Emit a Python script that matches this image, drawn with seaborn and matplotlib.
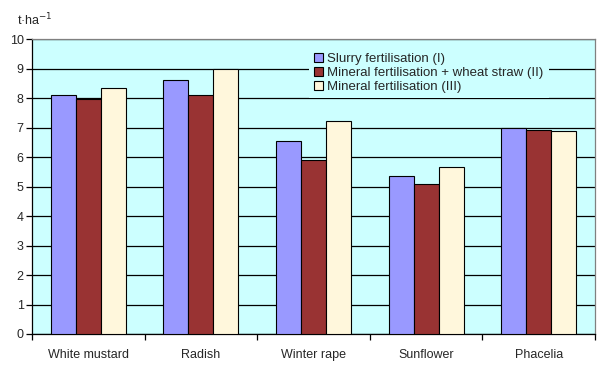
import matplotlib
matplotlib.use("Agg")
import matplotlib.pyplot as plt
import pandas as pd
import seaborn as sns
from matplotlib.ticker import FixedLocator

crops = ["White mustard", "Radish", "Winter rape", "Sunflower", "Phacelia"]
series = ["Slurry fertilisation (I)",
          "Mineral fertilisation + wheat straw (II)",
          "Mineral fertilisation (III)"]
slurry = [8.09, 8.60, 6.54, 5.35, 7.00]
mineral_straw = [7.96, 8.09, 5.89, 5.07, 6.90]
mineral = [8.33, 9.00, 7.21, 5.65, 6.87]
colors = ["#9999FF", "#993333", "#FFF7DC"]


def main():
	sns.set_style("white")
	plt.rcParams['font.family'] = ['Liberation Sans', 'DejaVu Sans']
	plt.rcParams['font.size'] = 9

	rows = []
	for name, vals in zip(series, [slurry, mineral_straw, mineral]):
		for c, v in zip(crops, vals):
			rows.append({"crop": c, "treatment": name, "yield": v})
	df = pd.DataFrame(rows)

	fig = plt.figure(figsize=(5.98, 3.68), dpi=100)
	ax = fig.add_axes([32 / 598, 1 - 334 / 368, 563 / 598, 295 / 368])
	ax.set_facecolor("#CCFFFF")

	sns.barplot(data=df, x="crop", y="yield", hue="treatment", palette=colors,
		width=0.667, gap=0, edgecolor="black", linewidth=0.8, saturation=1,
		ax=ax, zorder=3)

	ax.set_ylim(0, 10)
	ax.set_xlim(-0.5, 4.5)
	ax.set_yticks(range(0, 11))
	ax.yaxis.grid(True, color="black", linewidth=0.9)
	ax.set_axisbelow(True)
	ax.set_xlabel("")
	ax.set_ylabel("")

	for s in ["left", "bottom"]:
		ax.spines[s].set_color("black")
		ax.spines[s].set_linewidth(0.9)
	for s in ["top", "right"]:
		ax.spines[s].set_color("#808080")
		ax.spines[s].set_linewidth(0.9)

	ax.tick_params(axis="y", which="major", length=4, width=0.9, color="black",
		direction="out", left=True, pad=2, labelsize=9)
	ax.tick_params(axis="x", which="major", length=0, pad=11, labelsize=9)
	ax.xaxis.set_minor_locator(FixedLocator([-0.5, 0.5, 1.5, 2.5, 3.5, 4.5]))
	ax.tick_params(axis="x", which="minor", length=4, width=0.9, color="black",
		direction="out", bottom=True)

	leg = ax.legend(loc="upper left", bbox_to_anchor=(0.48, 0.993), frameon=True,
		facecolor="#CCFFFF", framealpha=1, fancybox=False,
		handlelength=0.7, handleheight=0.7, handletextpad=0.3,
		labelspacing=0.12, borderpad=0.4, fontsize=9.5)
	leg.get_frame().set_linewidth(0)
	leg.set_zorder(5)

	fig.text(17 / 598, 1 - 20 / 368, "t·ha$^{-1}$", fontsize=9, va="center", ha="left")

	fig.savefig("out.png", dpi=100)


if __name__ == "__main__":
	main()
